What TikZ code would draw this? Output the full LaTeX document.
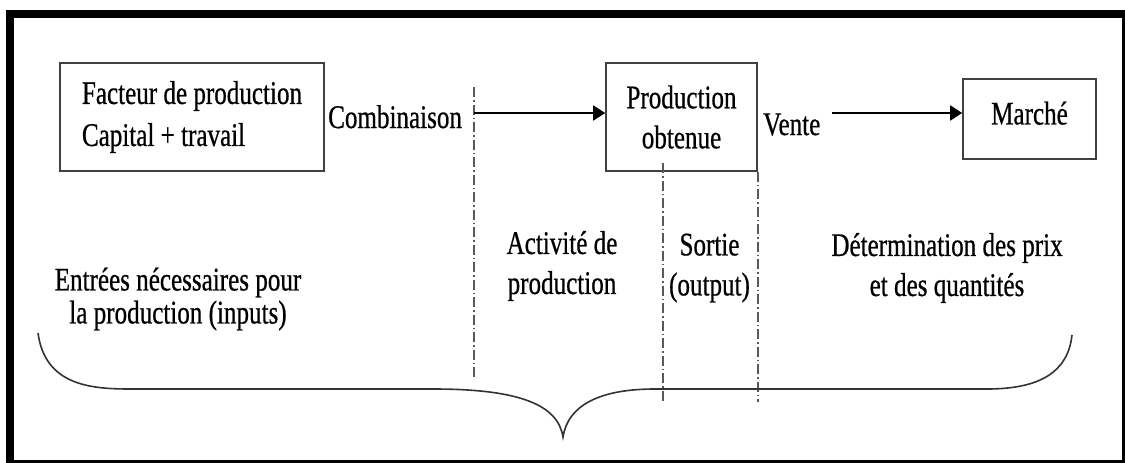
\documentclass[tikz,border=0pt]{standalone}
\usepackage{fontspec}
\setmainfont{Liberation Serif}[FakeStretch=0.76,FakeBold=0.6]
\usetikzlibrary{arrows.meta}

\tikzset{
  boite/.style={draw=black!75, line width=1.6pt, inner sep=0pt},
  texte/.style={inner sep=0pt, align=center},
  fleche/.style={line width=1.8pt, -{Triangle[length=12pt,width=15pt]}},
  limite/.style={black!65, line width=1.5pt, dash pattern=on 10pt off 3pt on 1.5pt off 3pt},
  accolade/.style={black!80, line width=1.6pt}
}

\begin{document}
\begin{tikzpicture}[x=1pt,y=-1pt,font=\fontsize{33pt}{40pt}\selectfont]
\clip (0,0) rectangle (1125,463);
% cadre
\draw[line width=8pt] (10,14) rectangle (1126,464);

% boites
\node[boite, minimum width=264pt, minimum height=108pt, align=left,
  font=\fontsize{33pt}{42pt}\selectfont] (facteur) at (192,117)
  {Facteur de production\\Capital + travail};
\node[boite, minimum width=151pt, minimum height=108pt, align=center] (prod) at (681.5,117)
  {Production\\obtenue};
\node[boite, minimum width=133pt, minimum height=80pt, text depth=12pt] (marche) at (1029.5,119)
  {Marché};

% textes
\node[texte, anchor=base west] (combi) at (328,128) {Combinaison};
\node[texte, anchor=base west] (vente) at (763,135) {Vente};
\node[texte, font=\fontsize{33pt}{33pt}\selectfont] (entrees) at (178,299)
  {Entrées nécessaires pour\\la production (inputs)};
\node[texte] (activite) at (562,266) {Activité de\\production};
\node[texte] (sortie) at (709.5,268) {Sortie\\(output)};
\node[texte] (prix) at (947,268) {Détermination des prix\\et des quantités};

% limites
\coordinate (l1h) at (474,87);
\coordinate (l1b) at (474,380);
\coordinate (l2h) at (663,163);
\coordinate (l2b) at (663,402);
\coordinate (l3b) at (prod.south east |- l2b);
\draw[limite] (l1h) -- (l1b);
\draw[limite] (l2h) -- (l2b);
\draw[limite] (prod.south east) -- (l3b);

% fleches
\coordinate (f1) at (474,113);
\coordinate (f2) at (832,113);
\draw[fleche] (f1) -- (f1 -| prod.west);
\draw[fleche] (f2) -- (f2 -| marche.west);

% accolade
\draw[accolade] (38,333) .. controls (45,385) and (90,389) .. (130,389) -- (433,389)
  .. controls (520,389) and (558,405) .. (563,437)
  .. controls (568,405) and (600,389) .. (655,389) -- (987,389)
  .. controls (1040,389) and (1068,372) .. (1072,335);
\end{tikzpicture}
\end{document}
